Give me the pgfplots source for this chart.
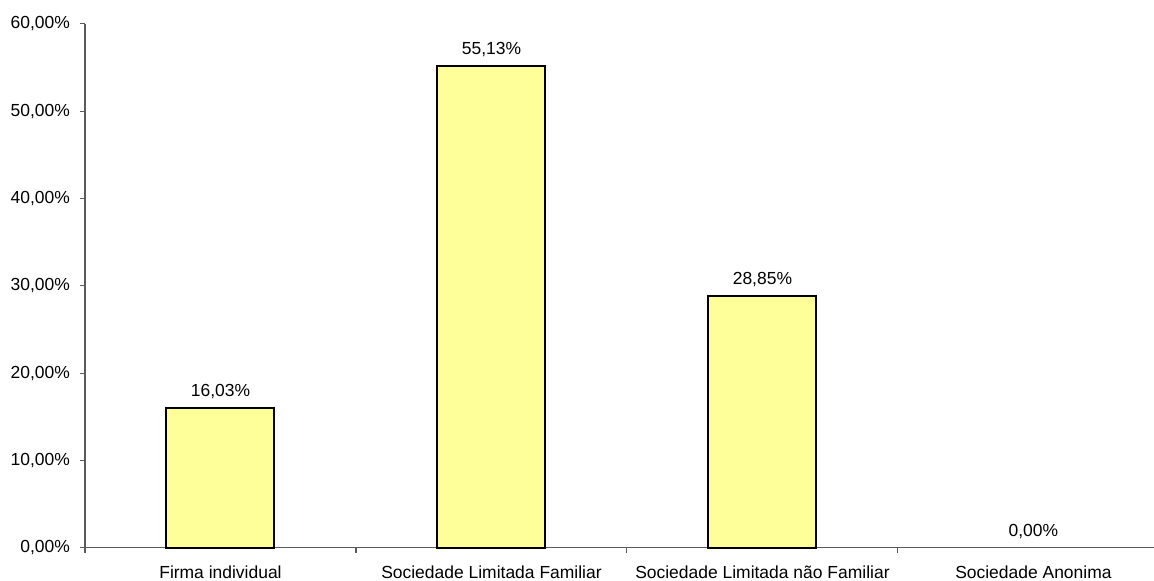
\documentclass[border=0pt]{standalone}
\usepackage{fontspec}
\setmainfont{Liberation Sans}
\usepackage{pgfplots}
\pgfplotsset{compat=1.18}
\definecolor{barfill}{HTML}{FFFF99}
\definecolor{axisgray}{HTML}{5A5A5A}
\begin{document}
\begin{tikzpicture}
\begin{axis}[
  anchor=south west,
  scale only axis,
  width=801.75pt, height=392.8pt,
  xmin=-0.5, xmax=3.445,
  ymin=0, ymax=60,
  axis x line*=bottom, axis y line*=left,
  axis line style={axisgray, line width=0.8pt, -},
  tick style={axisgray, line width=0.8pt},
  tick align=outside,
  major tick length=3.75pt,
  font=\fontsize{13.1}{15}\selectfont,
  /pgf/number format/assume math mode=true,
  ytick={0,10,...,60},
  yticklabel={\pgfmathprintnumber[fixed,fixed zerofill,precision=2,use comma]{\tick}\%},
  yticklabel style={xshift=-4pt},
  xtick={-0.5,0.5,1.5,2.5},
  xticklabels={},
  extra x ticks={0,1,2,3},
  extra x tick labels={Firma individual, Sociedade Limitada Familiar, Sociedade Limitada não Familiar, Sociedade Anonima},
  extra x tick style={major tick length=0pt, xticklabel style={yshift=-10pt}},
  ybar, bar width=81pt, bar shift=0pt,
  nodes near coords={\pgfmathprintnumber[fixed,fixed zerofill,precision=2,use comma]{\pgfplotspointmeta}\%},
  nodes near coords style={font=\fontsize{13.1}{15}\selectfont, yshift=3pt},
  clip=false,
]
\addplot[fill=barfill, draw=black, line width=1.5pt] coordinates {
  (0,16.03) (1,55.13) (2,28.85)
};
% empty category: label only, no visible bar
\addplot[fill=none, draw=none] coordinates {
  (3,0.00)
};
\end{axis}
\pgfresetboundingbox
\path[use as bounding box] (current axis.south west) ++(-63.75pt,-25pt) rectangle ++(865.5pt,435.75pt);
\end{tikzpicture}
\end{document}
